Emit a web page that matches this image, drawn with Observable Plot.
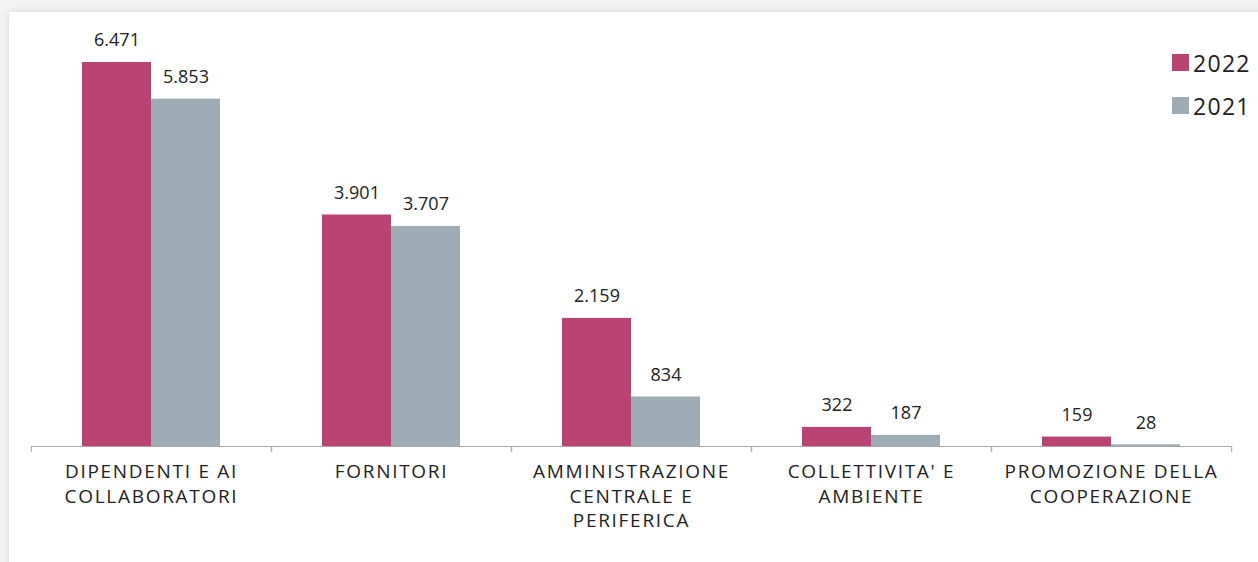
<!DOCTYPE html>
<html>
<head>
<meta charset="utf-8">
<script src="https://cdn.jsdelivr.net/npm/d3@7"></script>
<script src="https://cdn.jsdelivr.net/npm/@observablehq/plot@0.6"></script>
<style>
  html, body { margin: 0; padding: 0; background: #f4f4f4; overflow: hidden; }
  #wrap { position: relative; width: 1258px; height: 562px; overflow: hidden; }
  #card { position: absolute; left: 9px; top: 12px; width: 1300px; height: 600px; background: #fff;
          box-shadow: 0 0 8px rgba(0,0,0,0.12); }
  #chart { position: absolute; left: 0; top: 0; }
  #legend { position: absolute; left: 1172px; top: 41px; font-family: "Open Sans", sans-serif; font-size: 23px; color: #222; letter-spacing: 1.3px; }
  .item { display: flex; align-items: center; height: 43px; }
  .sw { width: 17px; height: 17px; margin-right: 4px; }
</style>
</head>
<body>
<div id="wrap">
  <div id="card"></div>
  <div id="chart"></div>
  <div id="legend"></div>
</div>
<script>
const categories = ["DIPENDENTI E AI COLLABORATORI", "FORNITORI", "AMMINISTRAZIONE CENTRALE E PERIFERICA", "COLLETTIVITA' E AMBIENTE", "PROMOZIONE DELLA COOPERAZIONE"];
const tickLabels = ["DIPENDENTI E AI\nCOLLABORATORI", "FORNITORI", "AMMINISTRAZIONE\nCENTRALE E\nPERIFERICA", "COLLETTIVITA' E\nAMBIENTE", "PROMOZIONE DELLA\nCOOPERAZIONE"];
const years = ["2022", "2021"];
const values2022 = [6471, 3901, 2159, 322, 159];
const values2021 = [5853, 3707, 834, 187, 28];
const colors = ["#b94373", "#9eadb5"];

const data = [];
categories.forEach((c, i) => {
  data.push({category: c, year: "2022", value: values2022[i]});
  data.push({category: c, year: "2021", value: values2021[i]});
});

const it = d3.formatLocale({decimal: ",", thousands: ".", grouping: [3], currency: ["€", ""]});
const fmt = it.format(",d");

const W = 1258, H = 562, mL = 30, mR = 26;
const half = (W - mL - mR) / categories.length / 2;

const chart = Plot.plot({
  width: W,
  height: H,
  marginLeft: mL,
  marginRight: mR,
  marginTop: 62,
  marginBottom: 116,
  style: {fontFamily: "Open Sans, sans-serif", fontSize: "18px", color: "#222", background: "transparent"},
  fx: {domain: categories, paddingInner: 0, paddingOuter: 0, label: null},
  x: {domain: years, paddingInner: 0, paddingOuter: 0.72, axis: null},
  y: {domain: [0, d3.max([...values2022, ...values2021])], axis: null},
  color: {domain: years, range: colors},
  marks: [
    Plot.barY(data, {fx: "category", x: "year", y: "value", fill: "year"}),
    Plot.text(data, {fx: "category", x: "year", y: "value", text: d => fmt(d.value), dy: -22, fontSize: 18, fill: "#222"}),
    Plot.ruleY([0], {stroke: "#a6a6a6", strokeWidth: 1.2}),
    Plot.axisFx({anchor: "bottom", tickSize: 6, tickFormat: () => "", dx: -half, stroke: "#a6a6a6", label: null}),
    Plot.axisFx({anchor: "bottom", tickSize: 6, tickFormat: () => "", dx: half, stroke: "#a6a6a6", label: null}),
    Plot.axisFx({anchor: "bottom", tickSize: 0, tickPadding: 14, fontSize: 19, lineHeight: 1.3,
      tickFormat: d => tickLabels[categories.indexOf(d)], fill: "#222", label: null, textOverflow: null})
  ]
});
chart.querySelectorAll("text").forEach(t => {
  if (t.closest("g[aria-label='fx-axis tick label']")) t.setAttribute("letter-spacing", "1.7");
});
document.getElementById("chart").appendChild(chart);

const lg = document.getElementById("legend");
years.forEach((y, i) => {
  const d = document.createElement("div");
  d.className = "item";
  d.innerHTML = `<div class="sw" style="background:${colors[i]}"></div><span>${y}</span>`;
  lg.appendChild(d);
});
</script>
</body>
</html>
